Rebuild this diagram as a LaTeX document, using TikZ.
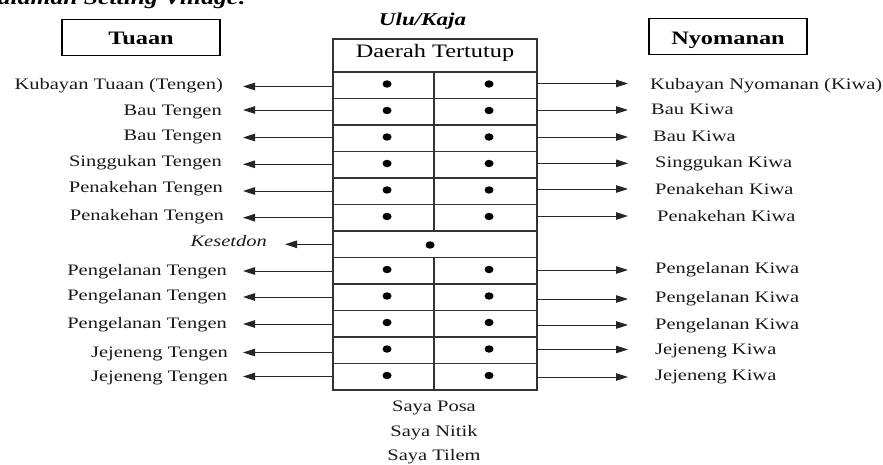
\documentclass[tikz,border=0pt]{standalone}
\usepackage{fontspec}
\setmainfont{Liberation Serif}[FakeStretch=1.28]
\usetikzlibrary{arrows.meta,shapes.geometric}

\tikzset{
  gridline/.style={line width=1.1pt, draw=black!80},
  conn/.style={line width=0.9pt, draw=black!85, -{Triangle[length=12pt,width=7.5pt]}},
  lbl/.style={font=\fontsize{16}{18}\selectfont, inner sep=0pt, text=black!90},
  headbox/.style={draw, line width=1.3pt, minimum width=158pt, minimum height=36pt, inner sep=0pt},
  headtext/.style={font=\fontsize{19}{21}\selectfont\bfseries, inner sep=0pt},
  dotmark/.style={ellipse, fill=black, minimum width=9pt, minimum height=7.5pt, inner sep=0pt}
}

\begin{document}
\begin{tikzpicture}[x=1pt,y=-1pt]
\useasboundingbox (0,0) rectangle (883,465);
\clip (0,0) rectangle (883,465);

% caption line running off the top edge
\node[font=\fontsize{20}{22}\selectfont\bfseries\itshape, inner sep=0pt, anchor=base east] (caption) at (247,5) {Halaman Setting Village:};

% side headings
\node[headbox] (tuaan) at (141,37.5) {};
\node[headtext, anchor=base] (tuaanT) at (141,45) {Tuaan};
\node[headbox] (nyom) at (728,36.5) {};
\node[headtext, anchor=base] (nyomT) at (728,45) {Nyomanan};

% orientation
\node[font=\fontsize{18}{20}\selectfont\bfseries\itshape, inner sep=0pt, anchor=base] (ulu) at (422.5,26) {Ulu/Kaja};

% central table
\draw[gridline] (333,39) rectangle (537,390);
\node[font=\fontsize{19}{21}\selectfont, inner sep=0pt, anchor=base] (head) at (435,57.3) {Daerah Tertutup};
\foreach \k in {0,...,11}{
  \draw[gridline] (333,72+26.5*\k) -- (537,72+26.5*\k);
}
\draw[gridline] (434,72) -- (434,231);
\draw[gridline] (434,258) -- (434,390);

% dots in the two-column rows
\foreach \r in {1,2,3,4,5,6,8,9,10,11,12}{
  \node[dotmark] (dl\r) at (387,72+26.5*\r-14.5) {};
  \node[dotmark] (dr\r) at (489,72+26.5*\r-14.5) {};
}
\node[dotmark] (dk) at (430,245) {};

% left side: Tengen
\foreach \t/\b/\a/\e [count=\i] in {
  Kubayan Tuaan (Tengen)/90/86.5/223,
  Bau Tengen/116/110/222,
  Bau Tengen/141/137.5/222,
  Singgukan Tengen/166.5/164.3/222,
  Penakehan Tengen/193/191/223,
  Penakehan Tengen/220/217.7/224,
  Pengelanan Tengen/275/271/227,
  Pengelanan Tengen/300/297/227,
  Pengelanan Tengen/328/324/227,
  Jejeneng Tengen/357/352.5/228,
  Jejeneng Tengen/381/376.5/228}{
  \node[lbl, anchor=base east] (tl\i) at (\e,\b) {\t};
  \coordinate (lo\i) at (333,\a);
  \coordinate (lt\i) at (243,\a);
  \draw[conn] (lo\i) -- (lt\i);
}

% Kesetdon
\node[lbl, font=\fontsize{16}{18}\selectfont\itshape, anchor=base east] (kes) at (267,246.7) {Kesetdon};
\coordinate (ko) at (333,244.3);
\coordinate (kt) at (285,244.3);
\draw[conn] (ko) -- (kt);

% right side: Kiwa
\foreach \t/\b/\a/\e [count=\i] in {
  Kubayan Nyomanan (Kiwa)/90/83.5/650,
  Bau Kiwa/115/110/651,
  Bau Kiwa/141.5/137/653,
  Singgukan Kiwa/167.5/163.3/655,
  Penakehan Kiwa/194/189/655,
  Penakehan Kiwa/221.5/216/657,
  Pengelanan Kiwa/273/270/655,
  Pengelanan Kiwa/302.5/299/655,
  Pengelanan Kiwa/329/325/655,
  Jejeneng Kiwa/354/349.5/655,
  Jejeneng Kiwa/380/377/655}{
  \node[lbl, anchor=base west] (tr\i) at (\e,\b) {\t};
  \coordinate (ro\i) at (537,\a);
  \coordinate (rt\i) at (628,\a);
  \draw[conn] (ro\i) -- (rt\i);
}

% below the table
\node[lbl, anchor=base] (posa) at (434,411.7) {Saya Posa};
\node[lbl, anchor=base] (nitik) at (434,436) {Saya Nitik};
\node[lbl, anchor=base] (tilem) at (434,460) {Saya Tilem};
\end{tikzpicture}
\end{document}
